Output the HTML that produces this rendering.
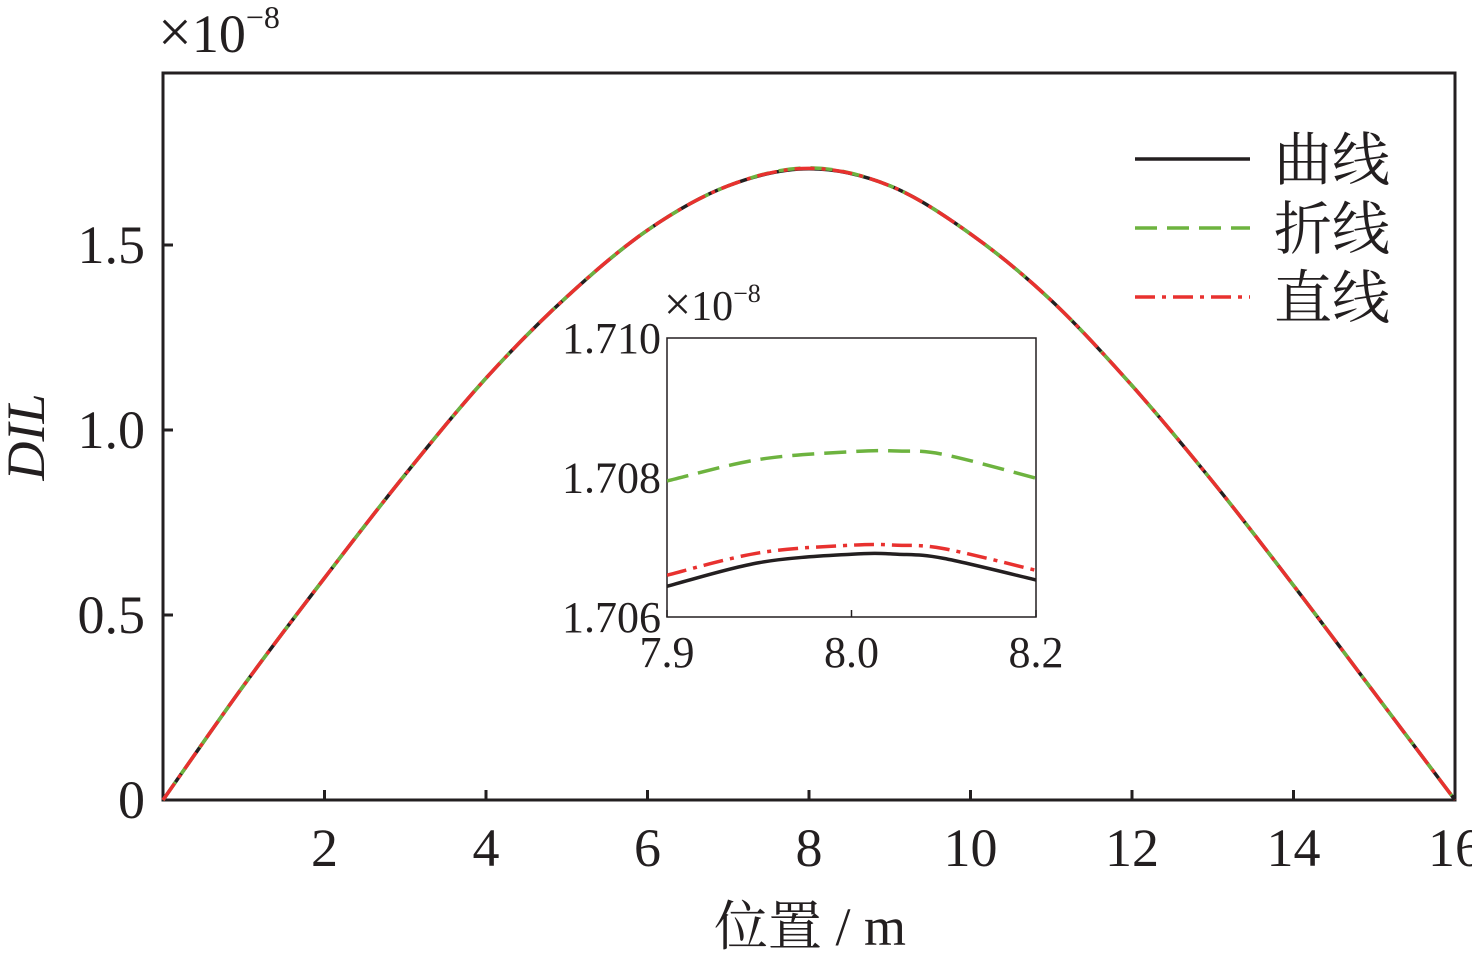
<!DOCTYPE html>
<html><head><meta charset="utf-8">
<style>
html,body{margin:0;padding:0;background:#fff;}
svg text{font-family:"Liberation Serif","Noto Serif CJK SC",serif;fill:#231f20;}
</style></head>
<body>
<svg width="1472" height="951" viewBox="0 0 1472 951">
<g id="main"></g>
<g id="inset"></g>
</svg>
<script>
const xMain=[0,1,2,3,4,5,6,7,8,9,10,11,12,13,14,15,16];
const curveMain=[0,0.31,0.60,0.88,1.14,1.36,1.54,1.66,1.706,1.66,1.53,1.35,1.12,0.86,0.58,0.29,0];
const polylineMain=[0,0.31,0.60,0.88,1.14,1.36,1.54,1.66,1.7083,1.66,1.53,1.35,1.12,0.86,0.58,0.29,0];
const straightMain=[0,0.31,0.60,0.88,1.14,1.36,1.54,1.66,1.707,1.66,1.53,1.35,1.12,0.86,0.58,0.29,0];
const xTicks=[2,4,6,8,10,12,14,16];
const yTicks=[0,0.5,1.0,1.5];
const yTickLabels=["0","0.5","1.0","1.5"];
const xInset=[7.8,7.9,8.0,8.05,8.1,8.2];
const curveInset=[1.70644,1.70678,1.70690,1.70690,1.70684,1.70653];
const polylineInset=[1.70795,1.70826,1.70837,1.70838,1.70833,1.70799];
const straightInset=[1.70660,1.70692,1.70703,1.70703,1.70698,1.70667];
const xInsetTicks=[7.8,8.0,8.2];
const xInsetLabels=["7.9","8.0","8.2"];
const yInsetTicks=[1.706,1.708,1.710];
const yInsetLabels=["1.706","1.708","1.710"];

const NS="http://www.w3.org/2000/svg";
function mk(tag,attrs,parent,text){const e=document.createElementNS(NS,tag);for(const k in attrs)e.setAttribute(k,attrs[k]);if(text!==undefined)e.textContent=text;parent.appendChild(e);return e;}

const L=163,R=1455,T=73,B=800;
const xm=v=>L+(v-0)/16*(R-L);
const ym=v=>B-v*370;
const gm=document.getElementById('main');
const frame=mk('rect',{x:L,y:T,width:R-L,height:B-T,fill:'none',stroke:'#231f20','stroke-width':3},gm);


xTicks.forEach(t=>{
  const l=mk('line',{x1:xm(t),x2:xm(t),y1:B,y2:B-10,stroke:'#231f20','stroke-width':3},gm);
  
  
  const tx=mk('text',{x:xm(t),y:B+66,'font-size':54,'text-anchor':'middle'},gm,String(t));
  
  
});
yTicks.forEach((t,i)=>{
  const l=mk('line',{x1:L,x2:L+10,y1:ym(t),y2:ym(t),stroke:'#231f20','stroke-width':3},gm);
  
  
  const tx=mk('text',{x:L-18,y:ym(t)+18,'font-size':54,'text-anchor':'end'},gm,yTickLabels[i]);
  
  
});
const xt=mk('text',{x:810,y:945,'font-size':54,'text-anchor':'middle'},gm,'位置 / m');


const yt=mk('text',{x:0,y:0,'font-size':54,'font-style':'italic','text-anchor':'middle',transform:'translate(44,437) rotate(-90)'},gm,'DIL');


const sc=mk('text',{x:158,y:52,'font-size':54},gm);


mk('tspan',{'font-size':60},sc,'×');
mk('tspan',{},sc,'10');
mk('tspan',{dy:-24,'font-size':32},sc,'−8');

function smooth(pts){
  let d='M'+pts[0][0].toFixed(1)+','+pts[0][1].toFixed(1);
  for(let i=0;i<pts.length-1;i++){
    const p0=pts[i-1]||pts[i],p1=pts[i],p2=pts[i+1],p3=pts[i+2]||p2;
    const c1=[p1[0]+(p2[0]-p0[0])/6,p1[1]+(p2[1]-p0[1])/6];
    const c2=[p2[0]-(p3[0]-p1[0])/6,p2[1]-(p3[1]-p1[1])/6];
    d+=' C'+c1.map(v=>v.toFixed(1)).join(',')+' '+c2.map(v=>v.toFixed(1)).join(',')+' '+p2.map(v=>v.toFixed(1)).join(',');
  }
  return d;
}
function poly(xs,ys,fx,fy,style,parent,name){
  const d=smooth(xs.map((x,i)=>[fx(x),fy(ys[i])]));
  const p=mk('path',Object.assign({d:d,fill:'none'},style),parent);
  
  
}
const sBlack={stroke:'#231f20','stroke-width':3.5};
const sGreen={stroke:'#6db33f','stroke-width':3.5,'stroke-dasharray':'22 10'};
const sRed={stroke:'#e8312f','stroke-width':3.5,'stroke-dasharray':'20 7 4 7'};
poly(xMain,curveMain,xm,ym,sBlack,gm,'curve-line');
poly(xMain,polylineMain,xm,ym,sGreen,gm,'polyline-line');
poly(xMain,straightMain,xm,ym,sRed,gm,'straight-line');

const leg=[['曲线',sBlack,159],['折线',sGreen,228],['直线',sRed,297]];
leg.forEach(([lab,st,y])=>{
  const g=mk('g',{},gm);
  
  
  mk('line',Object.assign({x1:1135,x2:1250,y1:y,y2:y},st),g);
  mk('text',{x:1274,y:y+21,'font-size':58},g,lab);
});

const iL=667,iR=1036,iT=338,iB=617;
const xi=v=>iL+(v-7.8)/0.4*(iR-iL);
const yi=v=>iB-(v-1.706)/0.004*(iB-iT);
const gi=document.getElementById('inset');
const bg=mk('rect',{x:iL,y:iT,width:iR-iL,height:iB-iT,fill:'#fff',stroke:'#231f20','stroke-width':1.5},gi);


const clip=mk('clipPath',{id:'ic'},gi);
mk('rect',{x:iL,y:iT,width:iR-iL,height:iB-iT},clip);
const gc=mk('g',{'clip-path':'url(#ic)'},gi);
poly(xInset,curveInset,xi,yi,sBlack,gc,'inset-curve-line');
poly(xInset,polylineInset,xi,yi,sGreen,gc,'inset-polyline-line');
poly(xInset,straightInset,xi,yi,sRed,gc,'inset-straight-line');
xInsetTicks.forEach((t,i)=>{
  mk('line',{x1:xi(t),x2:xi(t),y1:iB,y2:iB-7,stroke:'#231f20','stroke-width':1.5},gi);
  const tx=mk('text',{x:xi(t),y:iB+50,'font-size':44,'text-anchor':'middle'},gi,xInsetLabels[i]);
  
  
});
yInsetTicks.forEach((t,i)=>{
  const tx=mk('text',{x:iL-6,y:yi(t)+15,'font-size':44,'text-anchor':'end'},gi,yInsetLabels[i]);
  
  
});
const isc=mk('text',{x:664,y:320,'font-size':42},gi);


mk('tspan',{'font-size':48},isc,'×');
mk('tspan',{},isc,'10');
mk('tspan',{dy:-18,'font-size':26},isc,'−8');
</script>
</body></html>
